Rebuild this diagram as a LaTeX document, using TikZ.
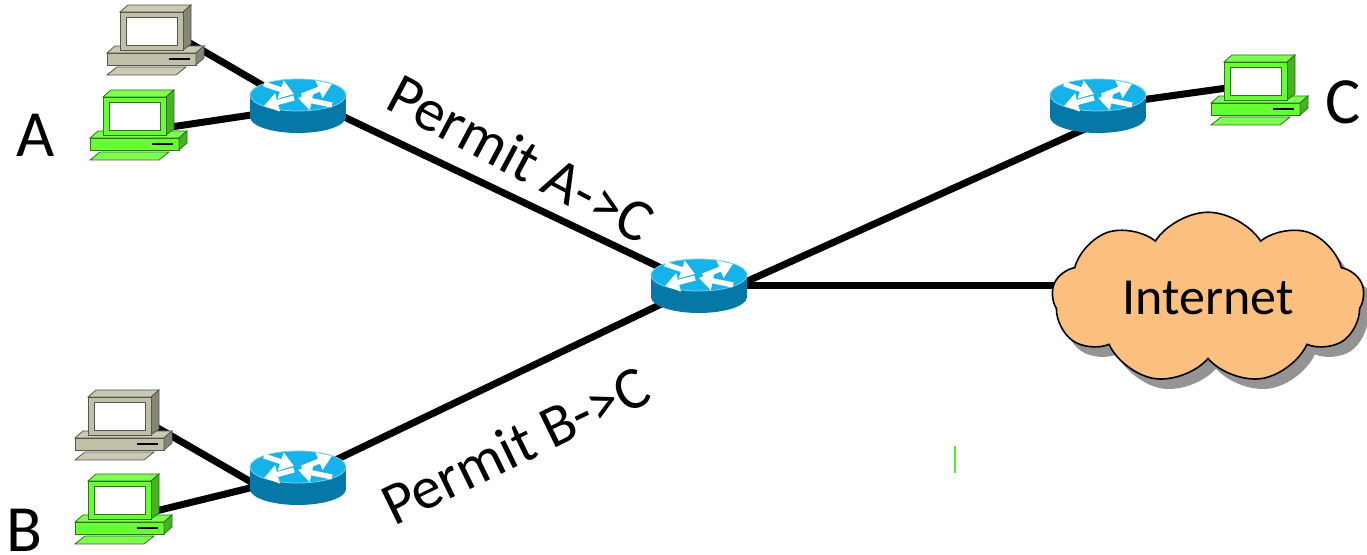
\documentclass[tikz,border=0pt]{standalone}
\usepackage{fontspec}
\setmainfont{Carlito}
\usetikzlibrary{shapes.symbols,shadows,backgrounds,arrows.meta}

\definecolor{rtrtop}{RGB}{22,178,234}
\definecolor{rtrside}{RGB}{6,120,168}
\definecolor{pcgray}{RGB}{192,192,168}
\definecolor{pcgreen}{RGB}{102,255,51}
\definecolor{cloudfill}{RGB}{251,191,128}

\tikzset{
  link/.style={line width=3.5pt},
  lbl/.style={font=\fontsize{33}{38}\selectfont, inner sep=0pt},
  rule/.style={font=\fontsize{30}{35}\selectfont, inner sep=0pt},
  netcloud/.style={cloud, cloud puffs=9, cloud puff arc=115, aspect=2,
    draw=black, line width=0.8pt, fill=cloudfill,
    minimum width=156pt, minimum height=78pt, font=\fontsize{26}{30}\selectfont,
    drop shadow={shadow xshift=4pt, shadow yshift=-5pt, fill=black!70, opacity=0.6}},
  router/.pic={
    \fill[rtrside] (-48,-11) rectangle (48,11);
    \fill[rtrside] (0,11) ellipse [x radius=48, y radius=16];
    \fill[rtrtop] (0,-11) ellipse [x radius=48, y radius=16];
    \draw[rtrtop!60!white, line width=0.4pt] (0,-11) ellipse [x radius=48, y radius=16];
    \foreach \sx/\sy/\ex/\ey in {-34/-22/-4/-12, 4/-10/34/-22, -4/-8/-34/0, 34/-1/0/-8}
      \draw[white, line width=2.6pt, -{Triangle[length=7pt,width=9pt]}] (\sx,\sy) -- (\ex,\ey);
    \coordinate (-c) at (0,0);
    \coordinate (-t) at (0,-11);
    \coordinate (-b) at (0,17);
    \coordinate (-w) at (-40,8);
  },
  pc/.pic={
    \colorlet{pcc}{#1}
    % keyboard
    \filldraw[fill=pcc!85!white, draw=pcc!45!black, line width=0.4pt] (-13,63) -- (-3,55) -- (66,55) -- (56,63) -- cycle;
    % base
    \filldraw[fill=pcc!85!white, draw=pcc!45!black, line width=0.4pt] (-13,41) -- (-5,34) -- (84,34) -- (76,41) -- cycle;
    \filldraw[fill=pcc, draw=pcc!45!black, line width=0.4pt] (-13,41) rectangle (76,53);
    \filldraw[fill=pcc!70!black, draw=pcc!45!black, line width=0.4pt] (76,41) -- (84,34) -- (84,46) -- (76,53) -- cycle;
    \draw[black, line width=0.8pt] (49,47) -- (70,47);
    % monitor
    \filldraw[fill=pcc!85!white, draw=pcc!45!black, line width=0.4pt] (0,0) -- (8,-7) -- (71,-7) -- (63,0) -- cycle;
    \filldraw[fill=pcc!70!black, draw=pcc!45!black, line width=0.4pt] (63,0) -- (71,-7) -- (71,32) -- (63,38) -- cycle;
    \filldraw[fill=pcc, draw=pcc!45!black, line width=0.4pt] (0,0) rectangle (63,38);
    \filldraw[fill=white, draw=pcc!45!black, line width=0.4pt] (6,5) rectangle (57,33);
    \coordinate (-p) at (68,30);
    \coordinate (-l) at (3,26);
  }
}

\begin{document}
\begin{tikzpicture}[x=0.5pt,y=-0.5pt]
\useasboundingbox (0,0) rectangle (1367,555);

% routers
\pic (rA) at (298,106) {router};
\pic (rM) at (699,286) {router};
\pic (rB) at (298,478) {router};
\pic (rC) at (1098,106) {router};

% hosts
\pic (pcA1) at (120,12) {pc=pcgray};
\pic (pcA2) at (103,97) {pc=pcgreen};
\pic (pcB1) at (88,397) {pc=pcgray};
\pic (pcB2) at (88,481) {pc=pcgreen};
\pic (pcC) at (1224,62) {pc=pcgreen};

\node[netcloud] (net) at (1208,298) {Internet};

% links
\begin{scope}[on background layer]
\draw[link] (pcA1-p) -- (rA-c);
\draw[link] (pcA2-p) -- (rA-w);
\draw[link] (pcB1-p) -- (rB-w);
\draw[link] (pcB2-p) -- (rB-w);
\draw[link] (rA-t) -- (rM-c);
\draw[link] (rM-c) -- (rB-c);
\draw[link] (rM-b) -- (rC-b);
\draw[link] (rM-c) -- (rM-c -| net.center);
\draw[link] (rC-c) -- (pcC-l);
\end{scope}

\node[lbl] (labA) at (36,135) {A};
\node[lbl] (labB) at (24,530) {B};
\node[lbl] (labC) at (1343,102) {C};
\node[rule, rotate=-28] (ruleAC) at (521,158) {Permit A->C};
\node[rule, rotate=26] (ruleBC) at (515,445) {Permit B->C};

\draw[pcgreen!90!black, line width=0.6pt] (955,446) -- (955,473);
\end{tikzpicture}
\end{document}
